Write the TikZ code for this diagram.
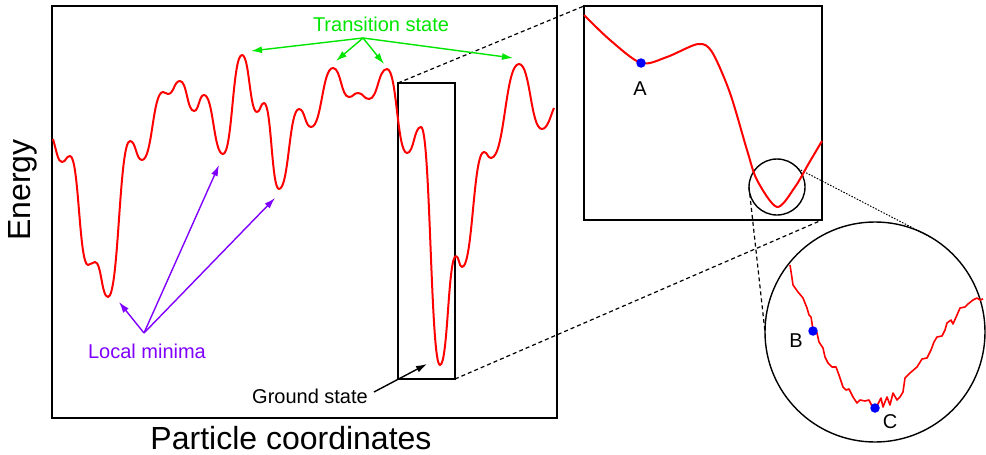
\documentclass[tikz,border=0pt]{standalone}
\usepackage{fontspec}
\setmainfont{Liberation Sans}
\usetikzlibrary{arrows.meta}

\definecolor{tsgreen}{RGB}{0,230,0}
\definecolor{minviolet}{RGB}{127,0,255}
\definecolor{dotblue}{RGB}{0,0,255}

\begin{document}
\begin{tikzpicture}[x=1pt,y=-1pt,
		curve/.style={red,line width=2pt,line join=round},
		frame/.style={draw=black,line width=1.4pt,inner sep=0pt,outer sep=0pt},
		lensline/.style={line width=1.2pt,dash pattern=on 4pt off 3pt},
		pointer/.style={line width=1.4pt,-{Latex[length=11pt,width=7pt]}},
		dotmark/.style={circle,fill=dotblue,inner sep=0pt,minimum size=9.5pt},
		smalltext/.style={font=\fontsize{20}{24}\selectfont},
		bigtext/.style={font=\fontsize{32}{38}\selectfont,inner sep=0pt}]
		\useasboundingbox (0,0) rectangle (986,455);
		% 主图框
		\draw[line width=1.4pt] (52,6) rectangle (557,418);
		\node[bigtext,anchor=base] (xlabel) at (291,449) {Particle coordinates};
		\node[bigtext,rotate=90] (ylabel) at (23,190) {Energy};
		% 放大框
		\node[frame,minimum width=57pt,minimum height=296pt] (gsbox) at (426.5,231) {};
		\node[frame,minimum width=238pt,minimum height=214pt] (zoombox) at (703,113) {};
		\node[frame,circle,minimum size=56pt] (lensA) at (777,187) {};
		\node[frame,circle,minimum size=220pt] (lensB) at (875,332) {};
		\draw[lensline] (gsbox.north west) -- (zoombox.north west);
		\draw[lensline] (gsbox.south east) -- (zoombox.south east);
		\draw[lensline] (lensA.west) -- (lensB.west);
		\draw[line width=1pt,dash pattern=on 1.5pt off 1.5pt] (lensA.41) -- (lensB.59);
		% 势能面
		\draw[curve] (53,139) .. controls (57,153) and (58,162) .. (62,162)
			\foreach \x/\y [remember=\x as \px (initially 62),remember=\y as \py (initially 162)] in
			{70/156,88/265,95/262,108/297,130/141,142/160,163/92,168/94,180/81,
			 194/111,204/95,223/154,242/55,257/112,264/103,279/189,299/109,311/127,333/68,
			 349/97,358/93,369/99,387/69,407/153,421/127,440/365,456/256,462/267,484/152,
			 491/158,519/64,542/129}
			{ .. controls ({(\px+\x)/2},\py) and ({(\px+\x)/2},\y) .. (\x,\y)}
			.. controls (548,129) and (551,114) .. (554,108);
		% 局部放大
		\draw[curve] plot[smooth] coordinates
			{(584,15)(610,40)(641,63)(667,57)(698,44)(712,52)(730,93)(747,150)
			 (757,180)(777,207)(795,187)(809,163)(822,141)};
		\draw[curve,line width=1.6pt] plot coordinates
			{(790,265)(792,278)(793,285)(798,292)(803,298)(807,308)(809,315)(811,317)
			 (812,323)(813,331)(817,333)(819,342)(823,348)(825,357)(828,363)(832,367)
			 (836,367)(839,375)(843,387)(846,390)(849,389)(853,397)(857,403)(860,400)
			 (865,401)(869,400)(872,406)(875,408)(878,404)(881,398)(883,407)(887,397)
			 (890,405)(893,393)(897,400)(900,397)(903,392)(905,378)(910,373)(917,367)
			 (922,359)(927,358)(931,350)(934,342)(937,337)(942,336)(945,330)(947,323)
			 (951,320)(953,324)(957,315)(960,308)(965,307)(968,304)(973,300)(977,298)
			 (980,300)(983,299)};
		% 标记点
		\node[dotmark] (ptA) at (641,63) {};
		\node[dotmark] (ptB) at (813,331) {};
		\node[dotmark] (ptC) at (875,408) {};
		\node[smalltext,anchor=base] (labA) at (640,95) {A};
		\node[smalltext,anchor=base] (labB) at (796,347) {B};
		\node[smalltext,anchor=base] (labC) at (890,428) {C};
		% 过渡态
		\node[smalltext,text=tsgreen,anchor=base] (ts) at (381,31) {Transition state};
		\coordinate (tsfoot) at (363,38);
		\coordinate (ts1) at (251,51);
		\coordinate (ts2) at (336,61);
		\coordinate (ts3) at (384,64);
		\coordinate (ts4) at (513,58);
		\foreach \t in {ts1,ts2,ts3,ts4}
			\draw[pointer,tsgreen] (tsfoot) -- (\t);
		% 局部极小
		\node[smalltext,text=minviolet,anchor=base] (lm) at (147,358) {Local minima};
		\coordinate (lmfoot) at (144,333);
		\coordinate (lm1) at (119,302);
		\coordinate (lm2) at (219,165);
		\coordinate (lm3) at (275,198);
		\foreach \t in {lm1,lm2,lm3}
			\draw[pointer,minviolet] (lmfoot) -- (\t);
		% 基态
		\node[smalltext,anchor=base] (gs) at (310,403) {Ground state};
		\coordinate (gsfoot) at (374,392);
		\coordinate (gstip) at (427,364);
		\draw[pointer] (gsfoot) -- (gstip);
	\end{tikzpicture}
\end{document}
